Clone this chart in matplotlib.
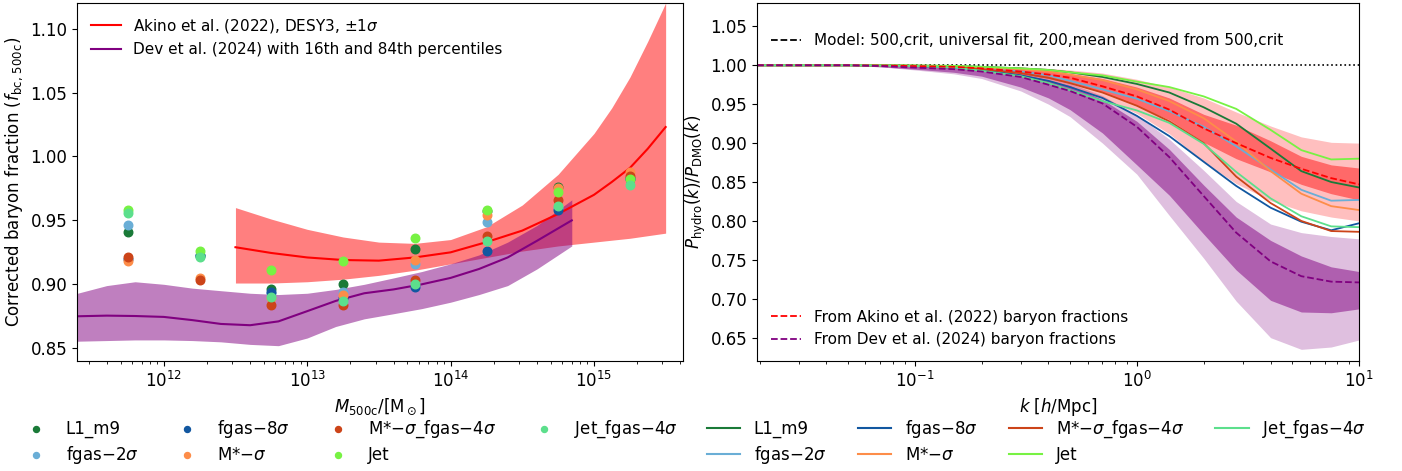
import numpy as np
import matplotlib
matplotlib.use("Agg")
import matplotlib.pyplot as plt
from matplotlib.lines import Line2D

plt.rcParams['font.size'] = 12
plt.rcParams['mathtext.fontset'] = 'dejavusans'

# simulation variants
sim_names = ["L1_m9", r"fgas$-2\sigma$", r"fgas$-8\sigma$", r"M*$-\sigma$",
             r"M*$-\sigma$_fgas$-4\sigma$", "Jet", r"Jet_fgas$-4\sigma$"]
sim_colors = ["#1a7a38", "#6aaed6", "#1257a0", "#fd8d49", "#cc4419", "#77f243", "#5cdf8c"]

# corrected baryon fraction per halo mass bin
mass_bins = [5.62e11, 1.78e12, 5.62e12, 1.78e13, 5.62e13, 1.78e14, 5.62e14, 1.78e15]
fbc = [
    [0.941, 0.922, 0.896, 0.900, 0.928, 0.957, 0.976, 0.983],
    [0.946, 0.922, 0.893, 0.894, 0.916, 0.949, 0.960, 0.983],
    [0.920, 0.923, 0.894, 0.889, 0.898, 0.926, 0.958, 0.982],
    [0.918, 0.905, 0.889, 0.892, 0.919, 0.954, 0.975, 0.988],
    [0.921, 0.903, 0.884, 0.884, 0.903, 0.938, 0.966, 0.985],
    [0.958, 0.926, 0.911, 0.918, 0.936, 0.958, 0.972, 0.982],
    [0.956, 0.921, 0.890, 0.887, 0.900, 0.934, 0.961, 0.978],
]

# Akino et al. (2022) relation
akino_m = [3.16e12, 5.62e12, 1.0e13, 1.78e13, 3.16e13, 5.62e13, 1.0e14,
           1.78e14, 3.16e14, 5.62e14, 1.0e15, 1.33e15, 1.78e15, 2.37e15, 3.16e15]
akino_f = [0.929, 0.9245, 0.921, 0.919, 0.9185, 0.921, 0.925, 0.933, 0.942, 0.955, 0.970,
           0.980, 0.991, 1.006, 1.023]
akino_lo = [0.901, 0.901, 0.902, 0.904, 0.907, 0.911, 0.916, 0.921, 0.926, 0.930, 0.933,
            0.9345, 0.936, 0.938, 0.940]
akino_hi = [0.960, 0.951, 0.943, 0.937, 0.933, 0.932, 0.935, 0.945, 0.962, 0.986, 1.018,
            1.038, 1.062, 1.090, 1.120]

# Dev et al. (2024) relation
dev_m = [2.5e11, 4.0e11, 6.3e11, 1.0e12, 1.58e12, 2.5e12, 4.0e12, 6.3e12, 1.0e13, 1.58e13,
         2.5e13, 4.0e13, 6.3e13, 1.0e14, 1.58e14, 2.5e14, 4.0e14, 7.0e14]
dev_f = [0.875, 0.8755, 0.8752, 0.8745, 0.872, 0.869, 0.868, 0.871, 0.879, 0.887,
         0.893, 0.896, 0.900, 0.905, 0.912, 0.921, 0.934, 0.950]
dev_lo = [0.8555, 0.856, 0.8565, 0.8565, 0.856, 0.855, 0.853, 0.852, 0.858, 0.867,
          0.873, 0.877, 0.881, 0.886, 0.892, 0.899, 0.912, 0.930]
dev_hi = [0.893, 0.899, 0.902, 0.900, 0.897, 0.895, 0.893, 0.892, 0.893, 0.896,
          0.900, 0.905, 0.910, 0.916, 0.923, 0.933, 0.946, 0.966]

# power spectrum suppression
k = [0.0195, 0.03, 0.05, 0.07, 0.1, 0.15, 0.2, 0.3, 0.4, 0.5, 0.7, 1.0, 1.4, 2.0, 2.8, 4.0, 5.5, 7.5, 10.0]
pk_sims = [
    [1.0, 1.0, 1.0, 0.9998, 0.9995, 0.999, 0.998, 0.996, 0.994, 0.991, 0.985, 0.976, 0.965, 0.946, 0.925, 0.893, 0.864, 0.850, 0.843],
    [1.0, 1.0, 1.0, 0.9997, 0.9993, 0.998, 0.996, 0.992, 0.987, 0.980, 0.969, 0.957, 0.941, 0.921, 0.896, 0.866, 0.840, 0.826, 0.827],
    [1.0, 1.0, 1.0, 0.9996, 0.999, 0.997, 0.994, 0.987, 0.980, 0.972, 0.958, 0.935, 0.909, 0.876, 0.845, 0.817, 0.799, 0.788, 0.797],
    [1.0, 1.0, 1.0, 0.9998, 0.9995, 0.999, 0.997, 0.995, 0.992, 0.988, 0.981, 0.969, 0.954, 0.932, 0.902, 0.864, 0.835, 0.819, 0.814],
    [1.0, 1.0, 1.0, 0.9997, 0.9993, 0.998, 0.995, 0.990, 0.984, 0.977, 0.965, 0.948, 0.928, 0.900, 0.857, 0.823, 0.800, 0.787, 0.786],
    [1.0, 1.0, 1.0, 1.0, 0.9997, 0.9993, 0.998, 0.996, 0.994, 0.991, 0.987, 0.979, 0.972, 0.960, 0.944, 0.917, 0.891, 0.879, 0.880],
    [1.0, 1.0, 1.0, 0.9996, 0.999, 0.997, 0.993, 0.986, 0.977, 0.968, 0.954, 0.942, 0.926, 0.899, 0.863, 0.829, 0.806, 0.793, 0.792],
]
pk_akino = [1.0, 1.0, 1.0, 0.9996, 0.999, 0.998, 0.996, 0.992, 0.988, 0.984, 0.973, 0.960, 0.943, 0.919, 0.900, 0.881, 0.867, 0.855, 0.847]
pk_akino_lo1 = [1.0, 1.0, 1.0, 0.9995, 0.9985, 0.997, 0.994, 0.989, 0.983, 0.977, 0.965, 0.948, 0.930, 0.901, 0.880, 0.863, 0.847, 0.835, 0.827]
pk_akino_hi1 = [1.0, 1.0, 1.0, 0.9998, 0.9995, 0.999, 0.998, 0.996, 0.993, 0.989, 0.983, 0.972, 0.958, 0.937, 0.923, 0.903, 0.883, 0.872, 0.868]
pk_akino_lo2 = [1.0, 1.0, 1.0, 0.9993, 0.998, 0.996, 0.993, 0.986, 0.979, 0.972, 0.958, 0.938, 0.912, 0.876, 0.848, 0.826, 0.813, 0.805, 0.800]
pk_akino_hi2 = [1.0, 1.0, 1.0, 0.9999, 0.9997, 0.9995, 0.999, 0.998, 0.996, 0.994, 0.990, 0.982, 0.972, 0.958, 0.940, 0.922, 0.908, 0.901, 0.900]
pk_dev = [1.0, 1.0, 1.0, 0.999, 0.997, 0.995, 0.992, 0.985, 0.975, 0.967, 0.951, 0.921, 0.882, 0.832, 0.785, 0.748, 0.729, 0.722, 0.721]
pk_dev_lo1 = [1.0, 1.0, 1.0, 0.998, 0.995, 0.991, 0.986, 0.972, 0.958, 0.943, 0.913, 0.872, 0.833, 0.783, 0.737, 0.698, 0.683, 0.682, 0.687]
pk_dev_hi1 = [1.0, 1.0, 1.0, 0.9995, 0.999, 0.997, 0.995, 0.989, 0.981, 0.974, 0.956, 0.928, 0.892, 0.846, 0.805, 0.775, 0.755, 0.741, 0.735]
pk_dev_lo2 = [1.0, 1.0, 1.0, 0.998, 0.994, 0.989, 0.983, 0.967, 0.950, 0.934, 0.900, 0.860, 0.807, 0.752, 0.697, 0.650, 0.635, 0.638, 0.647]
pk_dev_hi2 = [1.0, 1.0, 1.0, 0.9997, 0.9993, 0.998, 0.996, 0.991, 0.984, 0.977, 0.961, 0.936, 0.905, 0.865, 0.825, 0.796, 0.785, 0.780, 0.777]

fig = plt.figure(figsize=(14.02, 4.71), dpi=100)
ax1 = fig.add_axes([0.0549, 0.2335, 0.4322, 0.7601])
ax2 = fig.add_axes([0.5400, 0.2335, 0.4293, 0.7601])

# ---- left: baryon fractions vs mass
ax1.fill_between(akino_m, akino_lo, akino_hi, color='red', alpha=0.5, lw=0)
ax1.plot(akino_m, akino_f, color='red', lw=1.5, label=r'Akino et al. (2022), DESY3, $\pm1\sigma$')
ax1.fill_between(dev_m, dev_lo, dev_hi, color='purple', alpha=0.5, lw=0)
ax1.plot(dev_m, dev_f, color='purple', lw=1.5, label='Dev et al. (2024) with 16th and 84th percentiles')
for name, col, vals in zip(sim_names, sim_colors, fbc):
    ax1.scatter(mass_bins, vals, color=col, s=38, label=name, zorder=3)

ax1.set_xscale('log')
ax1.set_xlim(2.48e11, 4.17e15)
ax1.set_ylim(0.84, 1.12)
ax1.set_yticks([0.85, 0.90, 0.95, 1.00, 1.05, 1.10])
ax1.set_xlabel(r'$M_{\rm 500c}/[{\rm M_\odot}]$')
ax1.set_ylabel(r'Corrected baryon fraction ($f_{\rm bc,\, 500c}$)')
h, l = ax1.get_legend_handles_labels()
ax1.legend(h[:2], l[:2], loc='upper left', frameon=False, fontsize=11)

fig.legend(h[2:], l[2:], loc='upper left', bbox_to_anchor=(0.003, 0.145),
           ncol=4, frameon=False, labelspacing=0.35, markerscale=0.7, columnspacing=1.9)

# ---- right: power spectrum suppression
ax2.fill_between(k, pk_dev_lo2, pk_dev_hi2, color='purple', alpha=0.25, lw=0)
ax2.fill_between(k, pk_dev_lo1, pk_dev_hi1, color='purple', alpha=0.5, lw=0)
ax2.fill_between(k, pk_akino_lo2, pk_akino_hi2, color='red', alpha=0.25, lw=0)
ax2.fill_between(k, pk_akino_lo1, pk_akino_hi1, color='red', alpha=0.45, lw=0)
ax2.axhline(1.0, color='black', ls=':', lw=1.2)
for name, col, vals in zip(sim_names, sim_colors, pk_sims):
    ax2.plot(k, vals, color=col, lw=1.3)
l_ak, = ax2.plot(k, pk_akino, color='red', ls='--', lw=1.3)
l_dev, = ax2.plot(k, pk_dev, color='purple', ls='--', lw=1.3)

ax2.set_xscale('log')
ax2.set_xlim(0.0195, 10)
ax2.set_ylim(0.62, 1.08)
ax2.set_yticks([0.65, 0.70, 0.75, 0.80, 0.85, 0.90, 0.95, 1.00, 1.05])
ax2.set_xlabel(r'$k$ [$h$/Mpc]')
ax2.set_ylabel(r'$P_{\rm hydro}(k)/P_{\rm DMO}(k)$', labelpad=2)

model_handle = Line2D([], [], color='black', ls='--', lw=1.3)
leg_top = ax2.legend([model_handle], ['Model: 500,crit, universal fit, 200,mean derived from 500,crit'],
                     loc='upper left', frameon=False, fontsize=11, bbox_to_anchor=(0.0, 0.955))
ax2.add_artist(leg_top)
ax2.legend([l_ak, l_dev], ['From Akino et al. (2022) baryon fractions', 'From Dev et al. (2024) baryon fractions'],
           loc='lower left', frameon=False, fontsize=11, bbox_to_anchor=(0.0, 0.0))

line_handles = [Line2D([], [], color=c, lw=1.5) for c in sim_colors]
fig.legend(line_handles, sim_names, loc='upper left', bbox_to_anchor=(0.4935, 0.145),
           ncol=4, frameon=False, labelspacing=0.35, columnspacing=1.9)

fig.savefig('out.png', dpi=100)
